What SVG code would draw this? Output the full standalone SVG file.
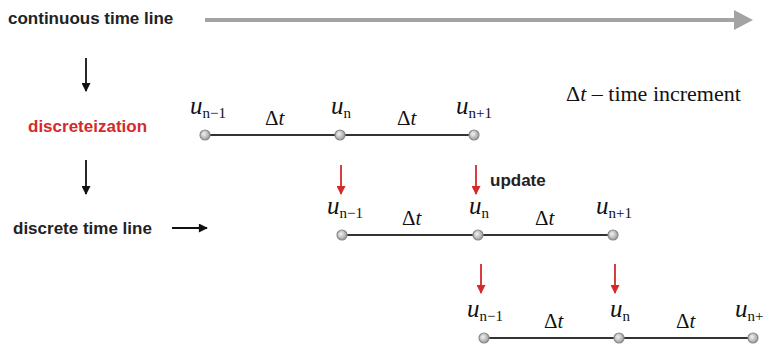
<svg xmlns="http://www.w3.org/2000/svg" width="765" height="347" viewBox="0 0 765 347">
<style>
.lbl{font-family:"Liberation Sans",Arial,sans-serif;font-weight:bold;font-size:17px;fill:#222}
.red{fill:#d42a2a}
.u{font-family:"Liberation Serif","Times New Roman",serif;font-size:25px;font-style:italic;fill:#111}
.sub{font-family:"Liberation Serif","Times New Roman",serif;font-size:15px;font-style:normal;fill:#111}
.dt{font-family:"Liberation Serif","Times New Roman",serif;font-size:21px;fill:#111}
.dti{font-style:italic}
.tl{stroke:#333;stroke-width:2;fill:none}
.pt{fill:url(#g);stroke:#8a8a8a;stroke-width:1.2}
.blk{stroke:#111;stroke-width:1.8;fill:none}
.ra{stroke:#d42a2a;stroke-width:1.8;fill:none}
</style>
<defs>
<radialGradient id="g" cx="0.4" cy="0.4" r="0.6">
<stop offset="0" stop-color="#f2f2f2"/>
<stop offset="1" stop-color="#9d9d9d"/>
</radialGradient>
<marker id="mb" viewBox="0 0 10 10" refX="9" refY="5" markerWidth="10" markerHeight="9" orient="auto" markerUnits="userSpaceOnUse">
<path d="M0,0 L10,5 L0,10 z" fill="#111"/>
</marker>
<marker id="mr" viewBox="0 0 10 10" refX="9" refY="5" markerWidth="10" markerHeight="9" orient="auto" markerUnits="userSpaceOnUse">
<path d="M0,0 L10,5 L0,10 z" fill="#d42a2a"/>
</marker>
</defs>
<rect width="765" height="347" fill="#fff"/>

<g id="labels">
<text class="lbl" x="8" y="24">continuous time line</text>
<text class="lbl red" x="28" y="132">discreteization</text>
<text class="lbl" x="13" y="234">discrete time line</text>
<text class="lbl" x="490" y="186">update</text>
<text class="dt" x="566" y="101" style="font-size:22px">Δ<tspan class="dti">t</tspan> – time increment</text>
</g>

<g id="connectors">
<line x1="205" y1="20" x2="737" y2="20" stroke="#a3a3a3" stroke-width="4"/>
<polygon points="734,10 753,20 734,30" fill="#a3a3a3"/>
<line class="blk" x1="86" y1="58" x2="86" y2="91" marker-end="url(#mb)"/>
<line class="blk" x1="86" y1="160" x2="86" y2="194" marker-end="url(#mb)"/>
<line class="blk" x1="172" y1="228" x2="207" y2="228" marker-end="url(#mb)"/>
<line class="ra" x1="341" y1="165" x2="341" y2="194" marker-end="url(#mr)"/>
<line class="ra" x1="476" y1="165" x2="476" y2="194" marker-end="url(#mr)"/>
<line class="ra" x1="481" y1="264" x2="481" y2="293" marker-end="url(#mr)"/>
<line class="ra" x1="615" y1="264" x2="615" y2="293" marker-end="url(#mr)"/>
<line class="tl" x1="205" y1="135" x2="474" y2="135"/>
<line class="tl" x1="342" y1="235" x2="613" y2="235"/>
<line class="tl" x1="484" y1="338" x2="753" y2="338"/>
</g>

<g id="line1">
<g id="n1a"><circle class="pt" cx="205" cy="135" r="5"/><text class="u" x="190" y="114">u<tspan class="sub" dy="4">n−1</tspan></text></g>
<g id="n1b"><circle class="pt" cx="340" cy="135" r="5"/><text class="u" x="331" y="114">u<tspan class="sub" dy="4">n</tspan></text></g>
<g id="n1c"><circle class="pt" cx="474" cy="135" r="5"/><text class="u" x="456" y="114">u<tspan class="sub" dy="4">n+1</tspan></text></g>
<text class="dt" x="265" y="125">Δ<tspan class="dti">t</tspan></text>
<text class="dt" x="397" y="125">Δ<tspan class="dti">t</tspan></text>
</g>

<g id="line2">
<g id="n2a"><circle class="pt" cx="342" cy="235" r="5"/><text class="u" x="327" y="214">u<tspan class="sub" dy="4">n−1</tspan></text></g>
<g id="n2b"><circle class="pt" cx="478" cy="235" r="5"/><text class="u" x="469" y="214">u<tspan class="sub" dy="4">n</tspan></text></g>
<g id="n2c"><circle class="pt" cx="613" cy="235" r="5"/><text class="u" x="596" y="214">u<tspan class="sub" dy="4">n+1</tspan></text></g>
<text class="dt" x="402" y="225">Δ<tspan class="dti">t</tspan></text>
<text class="dt" x="535" y="225">Δ<tspan class="dti">t</tspan></text>
</g>

<g id="line3">
<g id="n3a"><circle class="pt" cx="484" cy="338" r="5"/><text class="u" x="467" y="317">u<tspan class="sub" dy="4">n−1</tspan></text></g>
<g id="n3b"><circle class="pt" cx="619" cy="338" r="5"/><text class="u" x="610" y="317">u<tspan class="sub" dy="4">n</tspan></text></g>
<g id="n3c"><circle class="pt" cx="753" cy="338" r="5"/><text class="u" x="735" y="317">u<tspan class="sub" dy="4">n+</tspan></text></g>
<text class="dt" x="544" y="328">Δ<tspan class="dti">t</tspan></text>
<text class="dt" x="676" y="328">Δ<tspan class="dti">t</tspan></text>
</g>
</svg>
